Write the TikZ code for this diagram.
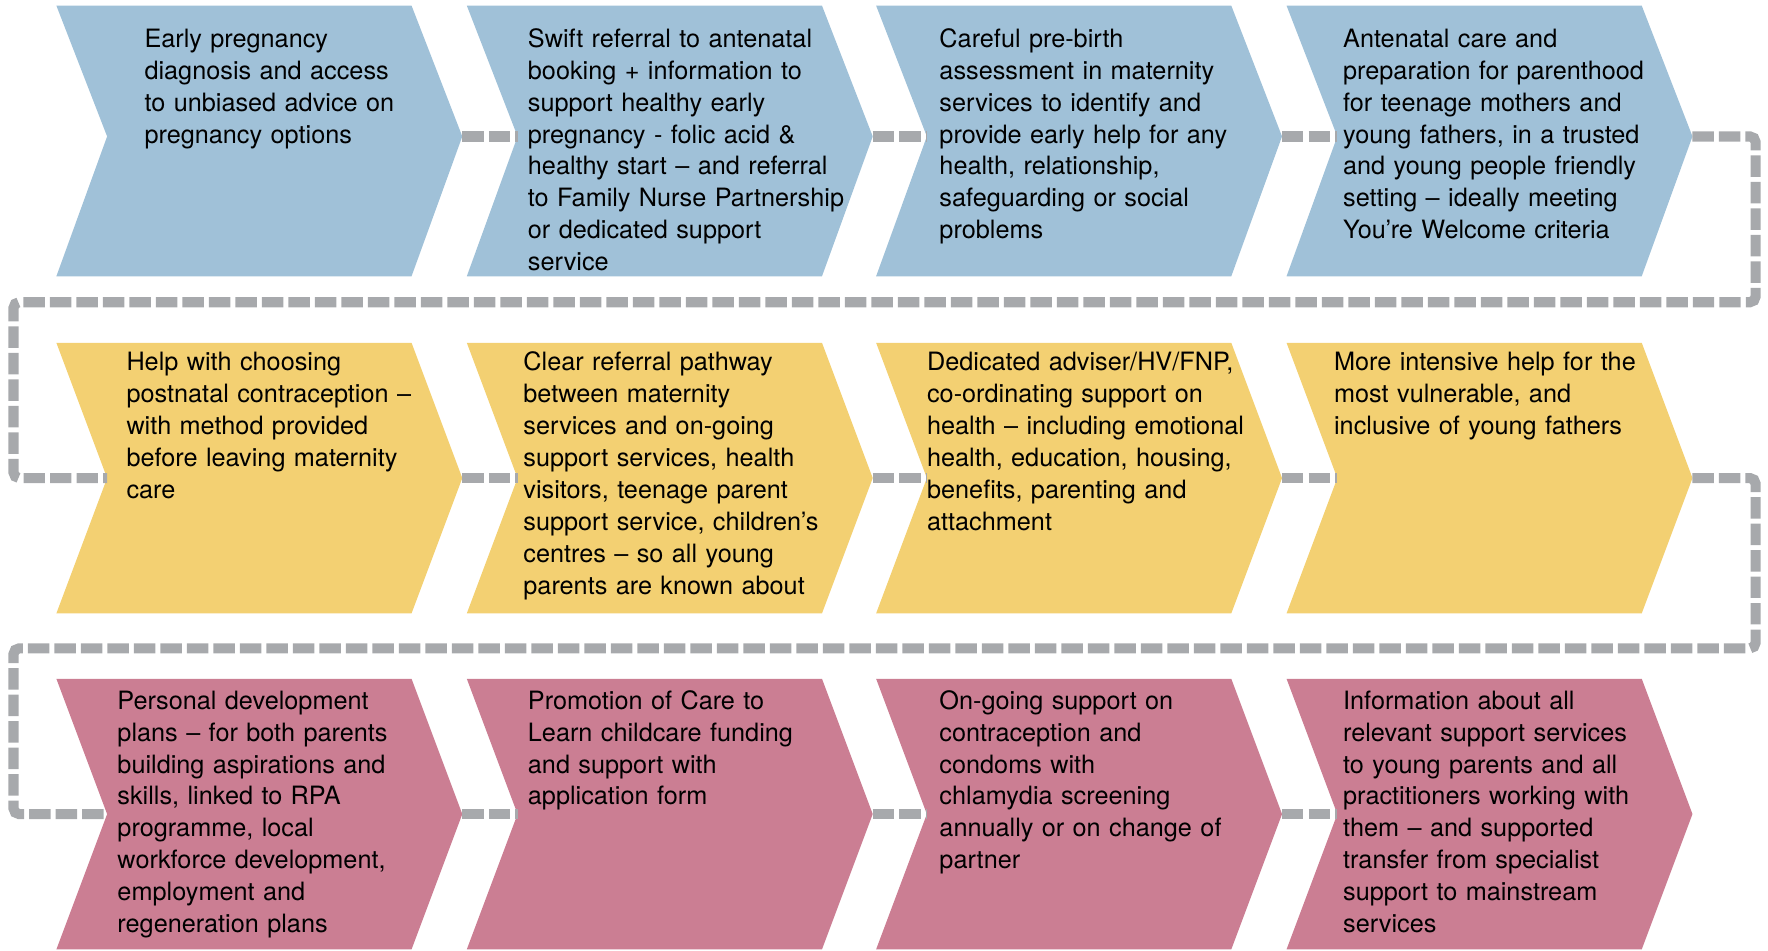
\documentclass[tikz,border=0pt]{standalone}
\usepackage{fontspec}
\setmainfont{TeX Gyre Heros}
\usepackage{tikz}

\definecolor{stepblue}{RGB}{160,193,216}
\definecolor{stepyellow}{RGB}{243,208,114}
\definecolor{steppink}{RGB}{203,126,147}
\definecolor{trailgray}{RGB}{167,169,172}

\begin{document}
\begin{tikzpicture}[x=1pt, y=-1pt,
    blurb/.style={anchor=base west, inner sep=0pt, text width=340pt, align=left,
      font=\fontsize{22.4}{28.3}\selectfont},
    trail/.style={draw=trailgray, line width=9pt, dash pattern=on 19pt off 4.5pt,
      rounded corners=5pt}]
  \useasboundingbox (0,0) rectangle (1568,843);

  % row 1 -- before the birth
  \fill[stepblue] (50,5) -- (365,5) -- (410,121) coordinate (tip11) -- (365,245) -- (50,245) -- (95,121) coordinate (notch11) -- cycle;
  \fill[stepblue] (414,5) -- (729,5) -- (774,121) coordinate (tip12) -- (729,245) -- (414,245) -- (459,121) coordinate (notch12) -- cycle;
  \fill[stepblue] (777,5) -- (1092,5) -- (1137,121) coordinate (tip13) -- (1092,245) -- (777,245) -- (822,121) coordinate (notch13) -- cycle;
  \fill[stepblue] (1141,5) -- (1456,5) -- (1501,121) coordinate (tip14) -- (1456,245) -- (1141,245) -- (1186,121) coordinate (notch14) -- cycle;

  % row 2 -- around the birth
  \fill[stepyellow] (50,304) -- (365,304) -- (410,424) coordinate (tip21) -- (365,544) -- (50,544) -- (95,424) coordinate (notch21) -- cycle;
  \fill[stepyellow] (414,304) -- (729,304) -- (774,424) coordinate (tip22) -- (729,544) -- (414,544) -- (459,424) coordinate (notch22) -- cycle;
  \fill[stepyellow] (777,304) -- (1092,304) -- (1137,424) coordinate (tip23) -- (1092,544) -- (777,544) -- (822,424) coordinate (notch23) -- cycle;
  \fill[stepyellow] (1141,304) -- (1456,304) -- (1501,424) coordinate (tip24) -- (1456,544) -- (1141,544) -- (1186,424) coordinate (notch24) -- cycle;

  % row 3 -- after the birth
  \fill[steppink] (50,602) -- (365,602) -- (410,722) coordinate (tip31) -- (365,842) -- (50,842) -- (95,722) coordinate (notch31) -- cycle;
  \fill[steppink] (414,602) -- (729,602) -- (774,722) coordinate (tip32) -- (729,842) -- (414,842) -- (459,722) coordinate (notch32) -- cycle;
  \fill[steppink] (777,602) -- (1092,602) -- (1137,722) coordinate (tip33) -- (1092,842) -- (777,842) -- (822,722) coordinate (notch33) -- cycle;
  \fill[steppink] (1141,602) -- (1456,602) -- (1501,722) coordinate (tip34) -- (1456,842) -- (1141,842) -- (1186,722) coordinate (notch34) -- cycle;

  % dashed trail
  \draw[trail] (tip11) -- (notch12);
  \draw[trail] (tip12) -- (notch13);
  \draw[trail] (tip13) -- (notch14);
  \draw[trail] (tip14) -- (1557,121) -- (1557,268) -- (12,268) -- (12,424) -- (notch21);
  \draw[trail] (tip21) -- (notch22);
  \draw[trail] (tip22) -- (notch23);
  \draw[trail] (tip23) -- (notch24);
  \draw[trail] (tip24) -- (1557,424) -- (1557,575) -- (12,575) -- (12,722) -- (notch31);
  \draw[trail] (tip31) -- (notch32);
  \draw[trail] (tip32) -- (notch33);
  \draw[trail] (tip33) -- (notch34);

  \node[blurb] (early) at (128,42) {Early pregnancy\\diagnosis and access\\to unbiased advice on\\pregnancy options};
  \node[blurb] (swift) at (468,42) {Swift referral to antenatal\\booking + information to\\support healthy early\\pregnancy - folic acid \&\\healthy start -- and referral\\to Family Nurse Partnership\\or dedicated support\\service};
  \node[blurb] (careful) at (833,42) {Careful pre-birth\\assessment in maternity\\services to identify and\\provide early help for any\\health, relationship,\\safeguarding or social\\problems};
  \node[blurb] (antenatal) at (1191,42) {Antenatal care and\\preparation for parenthood\\for teenage mothers and\\young fathers, in a trusted\\and young people friendly\\setting -- ideally meeting\\You're Welcome criteria};

  \node[blurb] (choosing) at (112,329) {Help with choosing\\postnatal contraception --\\with method provided\\before leaving maternity\\care};
  \node[blurb] (pathway) at (464,329) {Clear referral pathway\\between maternity\\services and on-going\\support services, health\\visitors, teenage parent\\support service, children's\\centres -- so all young\\parents are known about};
  \node[blurb] (adviser) at (822,329) {Dedicated adviser/HV/FNP,\\co-ordinating support on\\health -- including emotional\\health, education, housing,\\benefits, parenting and\\attachment};
  \node[blurb] (intensive) at (1183,329) {More intensive help for the\\most vulnerable, and\\inclusive of young fathers};

  \node[blurb] (plans) at (104,629) {Personal development\\plans -- for both parents\\building aspirations and\\skills, linked to RPA\\programme, local\\workforce development,\\employment and\\regeneration plans};
  \node[blurb] (childcare) at (468,629) {Promotion of Care to\\Learn childcare funding\\and support with\\application form};
  \node[blurb] (ongoing) at (833,629) {On-going support on\\contraception and\\condoms with\\chlamydia screening\\annually or on change of\\partner};
  \node[blurb] (information) at (1191,629) {Information about all\\relevant support services\\to young parents and all\\practitioners working with\\them -- and supported\\transfer from specialist\\support to mainstream\\services};
\end{tikzpicture}
\end{document}
